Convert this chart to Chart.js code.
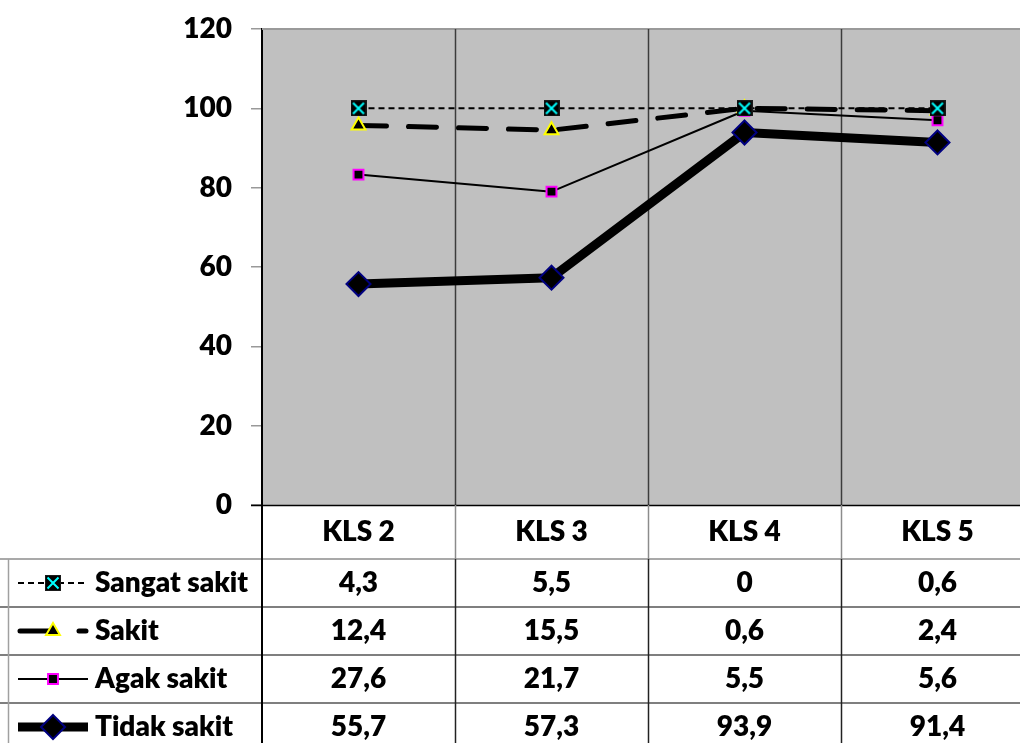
<!DOCTYPE html>
<html>
<head>
<meta charset="utf-8">
<script src="https://cdn.jsdelivr.net/npm/chart.js@4/dist/chart.umd.min.js"></script>
<style>
  html, body { margin: 0; padding: 0; background: #fff; overflow: hidden; }
  #wrap { width: 1020px; height: 743px; overflow: hidden; position: relative; }
  canvas { display: block; }
</style>
</head>
<body>
<div id="wrap"><canvas id="c" width="1040" height="743" style="width:1040px;height:743px"></canvas></div>
<script>
// Class categories and the share (%) of each pain level
const categories  = ['KLS 2', 'KLS 3', 'KLS 4', 'KLS 5'];
const sangatSakit = [4.3, 5.5, 0, 0.6];
const sakit       = [12.4, 15.5, 0.6, 2.4];
const agakSakit   = [27.6, 21.7, 5.5, 5.6];
const tidakSakit  = [55.7, 57.3, 93.9, 91.4];
const yTicks      = [0, 20, 40, 60, 80, 100, 120];

// Lines are cumulative: each level sits on top of the levels below it
const r1 = v => Math.round(v * 10) / 10;
const cumTidak  = tidakSakit.slice();
const cumAgak   = cumTidak.map((v, i) => r1(v + agakSakit[i]));
const cumSakit  = cumAgak.map((v, i) => r1(v + sakit[i]));
const cumSangat = cumSakit.map((v, i) => r1(v + sangatSakit[i]));

const FONT = 'Lato, "Open Sans", sans-serif';
const FONT_SIZE = 28;
const FONT_WEIGHT = 800;

// Marker for "Sangat sakit": black square with a cyan cross
function makeCrossBox(size) {
  const cv = document.createElement('canvas');
  cv.width = size; cv.height = size;
  const g = cv.getContext('2d');
  g.fillStyle = '#000';
  g.fillRect(0, 0, size, size);
  g.strokeStyle = '#1a1a1a';
  g.lineWidth = 1;
  g.strokeRect(0.5, 0.5, size - 1, size - 1);
  g.strokeStyle = '#00FFFF';
  g.lineWidth = 2;
  g.beginPath();
  g.moveTo(2.5, 2.5); g.lineTo(size - 2.5, size - 2.5);
  g.moveTo(size - 2.5, 2.5); g.lineTo(2.5, size - 2.5);
  g.stroke();
  return cv;
}
const crossBox = makeCrossBox(16);

const series = [
  { label: 'Sangat sakit', values: sangatSakit, data: cumSangat, order: 0,
    borderWidth: 2, borderDash: [6, 4], pointStyle: crossBox, pointRadius: 8,
    pointBackgroundColor: '#000', pointBorderColor: '#000', pointBorderWidth: 0 },
  { label: 'Sakit', values: sakit, data: cumSakit, order: 1,
    borderWidth: 5, borderDash: [28, 22], borderCapStyle: 'round', pointStyle: 'triangle', pointRadius: 8,
    pointBackgroundColor: '#000', pointBorderColor: '#FFFF00', pointBorderWidth: 2 },
  { label: 'Agak sakit', values: agakSakit, data: cumAgak, order: 2,
    borderWidth: 2, borderDash: [], pointStyle: 'rect', pointRadius: 7,
    pointBackgroundColor: '#000', pointBorderColor: '#FF00FF', pointBorderWidth: 2 },
  { label: 'Tidak sakit', values: tidakSakit, data: cumTidak, order: 3,
    borderWidth: 9, borderDash: [], pointStyle: 'rectRot', pointRadius: 12,
    pointBackgroundColor: '#000', pointBorderColor: '#000080', pointBorderWidth: 2 }
];

const HEADER_H = 54;
const ROW_H = 48;

function fmt(v) { return String(v).replace('.', ','); }

// Small legend symbol drawn in the first column of the data table
function drawLegendSymbol(ctx, s, y) {
  const x0 = 18, x1 = 88, xm = 53;
  ctx.save();
  ctx.strokeStyle = '#000';
  ctx.lineWidth = s.borderWidth;
  ctx.lineCap = s.borderCapStyle || 'butt';
  if (s.label === 'Sakit') {
    ctx.beginPath();
    ctx.moveTo(x0 + 2, y); ctx.lineTo(50, y);
    ctx.moveTo(79, y); ctx.lineTo(86, y);
    ctx.stroke();
  } else {
    ctx.setLineDash(s.borderDash);
    ctx.beginPath();
    ctx.moveTo(x0, y); ctx.lineTo(x1, y);
    ctx.stroke();
  }
  ctx.setLineDash([]);
  ctx.lineCap = 'butt';
  ctx.fillStyle = s.pointBackgroundColor;
  ctx.strokeStyle = s.pointBorderColor;
  ctx.lineWidth = s.pointBorderWidth;
  const r = s.pointRadius;
  ctx.beginPath();
  if (s.pointStyle === 'triangle') {
    ctx.moveTo(xm, y - r);
    ctx.lineTo(xm + r * 0.866, y + r * 0.5);
    ctx.lineTo(xm - r * 0.866, y + r * 0.5);
    ctx.closePath();
    ctx.fill(); ctx.stroke();
  } else if (s.pointStyle === 'rect') {
    const h = r * Math.SQRT1_2;
    ctx.rect(xm - h, y - h, 2 * h, 2 * h);
    ctx.fill(); ctx.stroke();
  } else if (s.pointStyle === 'rectRot') {
    ctx.moveTo(xm, y - r); ctx.lineTo(xm + r, y); ctx.lineTo(xm, y + r); ctx.lineTo(xm - r, y);
    ctx.closePath();
    ctx.fill(); ctx.stroke();
  } else {
    ctx.drawImage(s.pointStyle, xm - s.pointStyle.width / 2, y - s.pointStyle.height / 2);
  }
  ctx.restore();
}

function separatorX(xs, i) {
  return Math.round((xs.getPixelForValue(i - 1) + xs.getPixelForValue(i)) / 2) + 0.5;
}

const plotFrame = {
  id: 'plotFrame',
  beforeDraw(chart) {
    const { ctx, chartArea: a } = chart;
    ctx.save();
    ctx.fillStyle = '#C0C0C0';
    ctx.fillRect(a.left, a.top, a.right - a.left, a.bottom - a.top);
    ctx.restore();
  },
  beforeDatasetsDraw(chart) {
    const { ctx, chartArea: a, scales } = chart;
    const xs = scales.x;
    ctx.save();
    // top edge of the plot
    ctx.strokeStyle = '#9a9a9a';
    ctx.lineWidth = 2;
    ctx.beginPath();
    ctx.moveTo(a.left, a.top); ctx.lineTo(a.right, a.top);
    ctx.stroke();
    // category separators
    ctx.strokeStyle = '#3c3c3c';
    ctx.lineWidth = 1.5;
    for (let i = 1; i < categories.length; i++) {
      const x = separatorX(xs, i);
      ctx.beginPath();
      ctx.moveTo(x, a.top); ctx.lineTo(x, a.bottom);
      ctx.stroke();
    }
    ctx.restore();
  },
  afterDraw(chart) {
    const { ctx, chartArea: a, scales, width, height } = chart;
    const xs = scales.x;
    const top = a.bottom;
    const rowTop = top + HEADER_H;
    ctx.save();

    // horizontal rules of the table
    ctx.lineWidth = 1.5;
    ctx.strokeStyle = '#000';
    ctx.beginPath();
    ctx.moveTo(a.left - 11, top + 0.5); ctx.lineTo(width, top + 0.5);
    ctx.stroke();
    ctx.strokeStyle = '#8c8c8c';
    ctx.beginPath();
    ctx.moveTo(0, rowTop); ctx.lineTo(width, rowTop);
    ctx.stroke();
    ctx.strokeStyle = '#555';
    for (let r = 1; r < series.length; r++) {
      const y = rowTop + r * ROW_H;
      ctx.beginPath();
      ctx.moveTo(0, y); ctx.lineTo(width, y);
      ctx.stroke();
    }

    // vertical rules of the table
    ctx.strokeStyle = '#000';
    ctx.lineWidth = 2;
    ctx.beginPath();
    ctx.moveTo(a.left, top); ctx.lineTo(a.left, height);
    ctx.stroke();
    ctx.lineWidth = 1.5;
    ctx.strokeStyle = '#a0a0a0';
    ctx.beginPath();
    ctx.moveTo(8.5, rowTop); ctx.lineTo(8.5, height);
    ctx.stroke();
    for (let i = 1; i < categories.length; i++) {
      const x = separatorX(xs, i);
      ctx.strokeStyle = '#8c8c8c';
      ctx.beginPath();
      ctx.moveTo(x, top); ctx.lineTo(x, rowTop);
      ctx.stroke();
      ctx.strokeStyle = '#222';
      ctx.beginPath();
      ctx.moveTo(x, rowTop); ctx.lineTo(x, height);
      ctx.stroke();
    }

    // header and values
    ctx.fillStyle = '#000';
    ctx.font = FONT_WEIGHT + ' ' + FONT_SIZE + 'px ' + FONT;
    ctx.textBaseline = 'middle';
    ctx.textAlign = 'center';
    categories.forEach((c, i) => {
      ctx.fillText(c, xs.getPixelForValue(i), top + HEADER_H / 2);
    });
    series.forEach((s, r) => {
      const y = rowTop + r * ROW_H + ROW_H / 2;
      ctx.textAlign = 'center';
      s.values.forEach((v, i) => ctx.fillText(fmt(v), xs.getPixelForValue(i), y));
      ctx.textAlign = 'left';
      ctx.fillText(s.label, 95, y);
      drawLegendSymbol(ctx, s, y);
    });
    ctx.restore();
  }
};

new Chart(document.getElementById('c'), {
  type: 'line',
  data: {
    labels: categories,
    datasets: series.map(s => ({
      label: s.label,
      data: s.data,
      order: s.order,
      borderColor: '#000',
      borderWidth: s.borderWidth,
      borderDash: s.borderDash,
      borderCapStyle: s.borderCapStyle || 'butt',
      borderJoinStyle: 'round',
      tension: 0,
      fill: false,
      clip: false,
      pointStyle: s.pointStyle,
      pointRadius: s.pointRadius,
      pointHoverRadius: s.pointRadius,
      pointBackgroundColor: s.pointBackgroundColor,
      pointBorderColor: s.pointBorderColor,
      pointBorderWidth: s.pointBorderWidth
    }))
  },
  options: {
    responsive: false,
    animation: false,
    devicePixelRatio: 1,
    layout: { autoPadding: false, padding: { top: 29, right: 6, bottom: 0, left: 0 } },
    plugins: { legend: { display: false }, tooltip: { enabled: false } },
    scales: {
      x: {
        type: 'category',
        offset: true,
        grid: { display: false },
        border: { display: false },
        ticks: { display: false },
        afterFit(scale) {
          scale.height = 238;
          scale.paddingLeft = 0; scale.paddingRight = 0;
        }
      },
      y: {
        min: 0,
        max: 120,
        afterBuildTicks(scale) { scale.ticks = yTicks.map(v => ({ value: v })); },
        afterFit(scale) {
          scale.width = 262;
          scale.paddingTop = 0; scale.paddingBottom = 0;
        },
        grid: { drawOnChartArea: false, drawTicks: true, tickLength: 11, color: '#999', lineWidth: 1.5 },
        border: { display: true, color: '#000', width: 2 },
        ticks: {
          padding: 19,
          color: '#000',
          font: { family: FONT, size: FONT_SIZE, weight: FONT_WEIGHT }
        }
      }
    }
  },
  plugins: [plotFrame]
});
</script>
</body>
</html>
